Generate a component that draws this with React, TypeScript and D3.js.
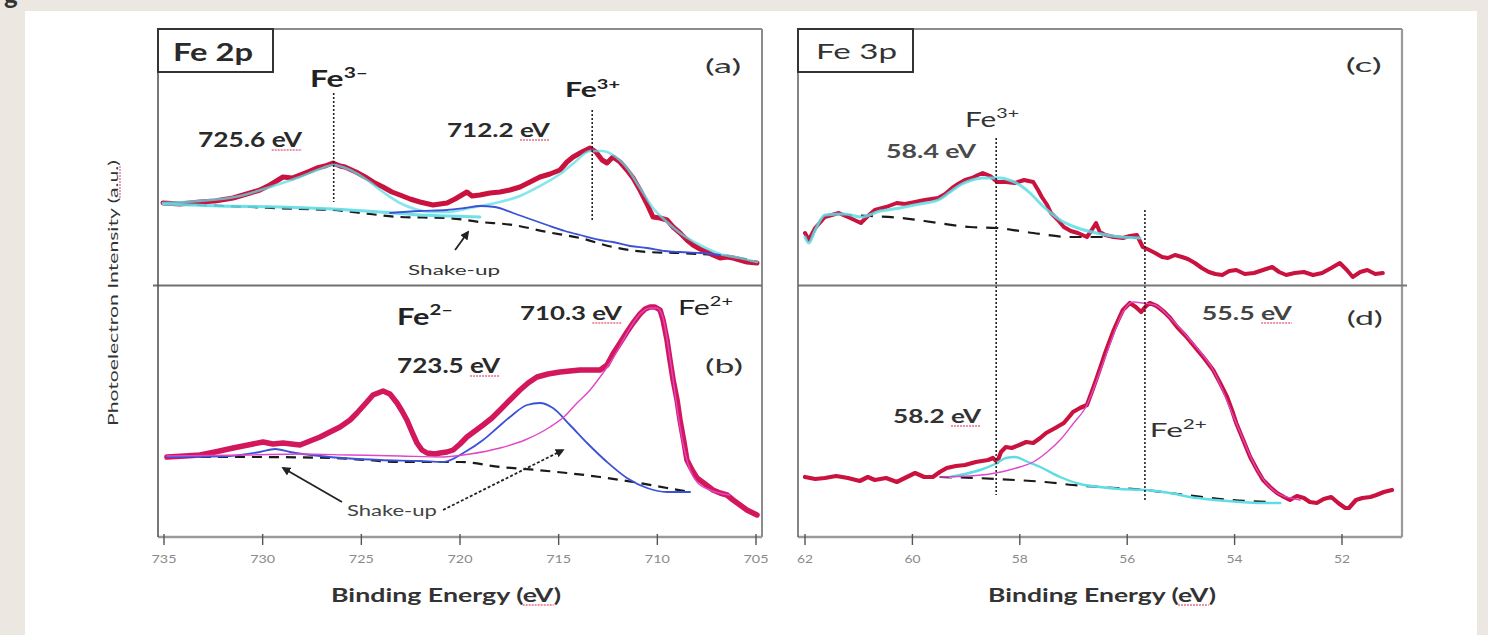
import React, { useLayoutEffect, useRef, useState } from 'react';
import * as d3 from 'd3';

type P = [number, number];

// ---------- tick labels ----------
const LEFT_TICKS = [735, 730, 725, 720, 715, 710, 705];
const RIGHT_TICKS = [62, 60, 58, 56, 54, 52];

// ---------- panel (a) Fe 2p, oxidised ----------
const A_RAW: P[] = [
  [735.05, 83], [734.19, 82], [733.18, 84], [732.42, 85], [731.5, 88], [730.64, 93], [730.14, 96], [729.63, 101],
  [728.97, 109], [728.51, 108], [728.11, 111], [727.6, 115], [727.25, 118], [726.84, 120], [726.44, 123], [726.08, 120],
  [725.83, 119], [725.27, 114], [724.71, 108], [724.31, 103], [723.9, 99], [723.45, 94], [723.04, 91], [722.53, 87],
  [722.03, 84], [721.37, 81], [720.66, 83], [720.25, 87], [719.65, 94], [719.39, 90], [718.99, 91], [718.48, 93],
  [717.97, 94], [717.47, 96], [716.96, 99], [716.45, 104], [715.95, 109], [715.44, 112], [714.93, 116], [714.58, 124],
  [714.27, 129], [713.82, 134], [713.41, 138], [713.11, 134], [712.8, 126], [712.55, 123], [712.25, 129], [711.89, 124],
  [711.54, 116], [711.23, 108], [710.88, 96], [710.52, 82], [710.22, 69], [709.86, 68], [709.51, 66], [709.2, 59],
  [708.85, 53], [708.5, 46], [708.19, 41], [707.84, 37], [707.48, 34], [707.18, 31], [706.82, 28], [706.47, 29],
  [706.16, 28], [705.81, 26], [705.46, 24], [704.95, 23],
];
const A_ENVELOPE: P[] = [
  [735.05, 83], [733.18, 85], [731.15, 90], [729.63, 99], [728.11, 109], [727.09, 117], [726.44, 121], [725.57, 116],
  [724.71, 106], [723.9, 94], [723.04, 83], [722.28, 77], [721.52, 74], [720.66, 74], [719.75, 77], [718.99, 80],
  [717.97, 84], [716.96, 90], [715.95, 100], [714.93, 112], [714.17, 124], [713.41, 135], [712.8, 135], [712.25, 131],
  [711.54, 118], [710.88, 98], [710.22, 78], [709.51, 64], [708.85, 53], [707.84, 41], [706.82, 32], [705.81, 28], [704.95, 24],
];
const A_LOW_FIT: P[] = [
  [735.05, 82], [732.16, 80], [729.12, 79], [726.44, 77], [724.05, 74], [722.03, 71], [720.51, 70], [718.99, 69],
];
const A_SHAKEUP: P[] = [
  [723.55, 73], [722.03, 75], [720.66, 76], [719.75, 78], [718.99, 80], [718.23, 79], [717.31, 73], [716.45, 67],
  [715.59, 61], [714.68, 55], [713.92, 51], [712.9, 46], [712.25, 44], [711.38, 40], [710.52, 38], [709.61, 35],
  [708.85, 34], [707.84, 33], [706.82, 31],
];
const A_BASE: P[] = [
  [735.05, 83], [733.18, 81], [730.64, 79], [728.11, 77], [726.44, 76], [724.56, 72], [723.04, 69], [720.66, 68],
  [718.99, 64], [717.31, 61], [715.59, 54], [713.92, 48], [712.25, 39], [710.52, 34], [708.85, 33], [707.18, 31],
  [705.81, 28], [704.95, 24],
];

// ---------- panel (b) Fe 2p, reduced ----------
const B_RAW: P[] = [
  [734.85, 80], [733.94, 81], [733.18, 82], [732.42, 85], [731.5, 89], [730.74, 92], [729.98, 95], [729.48, 93],
  [728.97, 94], [728.11, 92], [727.6, 96], [727.09, 100], [726.59, 105], [726.08, 110], [725.57, 117], [725.22, 124],
  [724.81, 133], [724.41, 142], [723.9, 146], [723.55, 143], [723.19, 134], [722.94, 126], [722.69, 117], [722.43, 105],
  [722.18, 94], [721.93, 87], [721.67, 84], [721.27, 83], [721.01, 84], [720.66, 85], [720.35, 87], [720.0, 93],
  [719.65, 100], [719.24, 106], [718.83, 112], [718.38, 119], [717.97, 127], [717.47, 137], [716.96, 147], [716.55, 154],
  [716.1, 160], [715.54, 163], [714.93, 165], [714.43, 166], [713.92, 167], [713.31, 167], [712.9, 167], [712.55, 172],
  [712.25, 183], [711.89, 194], [711.54, 205], [711.23, 214], [710.88, 223], [710.62, 228], [710.37, 230], [710.12, 230],
  [709.86, 227], [709.71, 217], [709.51, 197], [709.36, 177], [709.2, 157], [709.0, 137], [708.85, 117], [708.65, 95],
  [708.5, 77], [708.24, 67], [707.99, 59], [707.58, 53], [707.18, 47], [706.82, 44], [706.47, 42], [706.16, 37],
  [705.81, 32], [705.46, 27], [704.95, 22],
];
const B_FE2_MAIN: P[] = [
  [734.85, 81], [730.64, 82], [728.11, 83], [725.57, 82], [723.04, 81], [720.86, 80], [719.49, 83], [717.97, 89],
  [716.71, 97], [715.44, 110], [714.68, 121], [714.07, 134], [713.41, 147], [712.9, 160], [712.4, 174], [711.89, 191],
  [711.38, 209], [710.88, 223], [710.37, 229], [710.02, 229], [709.71, 219], [709.46, 192], [709.2, 157], [708.95, 122],
  [708.65, 89], [708.34, 67], [707.99, 55], [707.33, 47], [706.32, 42],
];
const B_SHAKEUP: P[] = [
  [734.85, 80], [731.66, 81], [730.14, 85], [729.37, 88], [728.61, 85], [727.09, 81], [724.05, 77], [722.03, 76],
  [720.86, 75], [719.75, 85], [718.83, 97], [718.12, 109], [717.47, 120], [716.6, 132], [715.95, 134], [715.29, 129],
  [714.43, 112], [713.56, 94], [712.55, 75], [711.54, 59], [710.52, 49], [709.51, 45], [708.34, 45],
];
const B_BASE: P[] = [
  [734.85, 80], [730.64, 80], [726.44, 79], [724.71, 77], [723.04, 75], [720.0, 75], [717.97, 70], [716.1, 67],
  [714.58, 64], [712.9, 60], [711.23, 55], [709.51, 49], [708.34, 45],
];

// ---------- panel (c) Fe 3p, oxidised ----------
const C_RAW: P[] = [
  [62.0, 53], [61.93, 46], [61.81, 58], [61.63, 69], [61.5, 71], [61.37, 73], [61.16, 68], [60.96, 63], [60.83, 70],
  [60.7, 76], [60.49, 79], [60.29, 83], [60.14, 82], [59.95, 84], [59.77, 86], [59.52, 88], [59.39, 92], [59.26, 98],
  [59.15, 102], [59.02, 106], [58.89, 108], [58.78, 111], [58.69, 113], [58.55, 110], [58.42, 104], [58.26, 104],
  [58.09, 103], [57.92, 106], [57.75, 104], [57.66, 96], [57.59, 89], [57.49, 81], [57.42, 73], [57.29, 66], [57.18, 59],
  [57.05, 55], [56.92, 53], [56.75, 49], [56.66, 56], [56.58, 63], [56.51, 54], [56.41, 51], [56.25, 49], [56.08, 48],
  [55.95, 50], [55.82, 51], [55.71, 39], [55.59, 36], [55.48, 33], [55.35, 29], [55.24, 28], [55.11, 31], [54.98, 29],
  [54.87, 27], [54.74, 23], [54.61, 18], [54.48, 14], [54.36, 12], [54.23, 11], [54.1, 15], [53.97, 16], [53.81, 12],
  [53.64, 13], [53.47, 16], [53.3, 19], [53.17, 14], [53.04, 11], [52.88, 13], [52.71, 14], [52.54, 11], [52.37, 13],
  [52.2, 18], [52.04, 23], [51.91, 16], [51.8, 9], [51.66, 14], [51.53, 16], [51.38, 12], [51.24, 13],
];
const C_ENVELOPE: P[] = [
  [62.0, 49], [61.93, 43], [61.81, 56], [61.63, 71], [61.26, 72], [60.96, 69], [60.6, 75], [60.23, 78], [59.86, 82],
  [59.52, 86], [59.3, 94], [59.11, 101], [58.89, 106], [58.69, 108], [58.37, 108], [58.15, 105], [58.0, 101],
  [57.81, 93], [57.59, 81], [57.4, 72], [57.25, 66], [56.92, 58], [56.58, 53], [56.13, 49], [55.76, 48],
];
const C_BASE: P[] = [
  [61.35, 71], [60.79, 70], [60.19, 68], [59.52, 63], [58.93, 59], [58.42, 58], [57.75, 53], [57.08, 49], [56.41, 49], [55.76, 48],
];

// ---------- panel (d) Fe 3p, reduced ----------
const D_RAW: P[] = [
  [62.0, 60], [61.81, 58], [61.63, 59], [61.42, 61], [61.2, 59], [60.98, 56], [60.83, 60], [60.7, 57], [60.49, 59],
  [60.29, 55], [60.14, 59], [59.95, 64], [59.78, 60], [59.62, 60], [59.49, 65], [59.36, 69], [59.19, 71], [59.02, 72],
  [58.82, 75], [58.59, 77], [58.5, 79], [58.42, 75], [58.35, 85], [58.26, 90], [58.15, 89], [58.01, 92], [57.88, 95],
  [57.75, 94], [57.62, 99], [57.51, 104], [57.34, 109], [57.18, 114], [57.07, 121], [57.01, 125], [56.88, 129],
  [56.75, 132], [56.66, 145], [56.58, 157], [56.49, 171], [56.41, 184], [56.32, 197], [56.25, 207], [56.15, 219],
  [56.08, 227], [55.95, 234], [55.84, 230], [55.74, 225], [55.65, 231], [55.58, 234], [55.45, 231], [55.31, 225],
  [55.2, 219], [55.07, 210], [54.91, 201], [54.74, 190], [54.57, 179], [54.4, 167], [54.27, 154], [54.14, 140],
  [54.05, 127], [53.97, 114], [53.84, 97], [53.71, 80], [53.58, 67], [53.47, 57], [53.34, 50], [53.21, 44], [53.08, 40],
  [52.97, 37], [52.84, 41], [52.71, 39], [52.6, 35], [52.47, 34], [52.34, 38], [52.2, 40], [52.07, 34], [51.94, 29],
  [51.87, 29], [51.74, 37], [51.62, 39], [51.47, 40], [51.36, 42], [51.22, 45], [51.07, 47],
];
const D_FE2: P[] = [
  [59.49, 60], [58.93, 61], [58.35, 65], [58.0, 70], [57.75, 75], [57.49, 85], [57.25, 97], [57.01, 113], [56.75, 132],
  [56.51, 165], [56.28, 199], [56.08, 225], [55.89, 235], [55.71, 234], [55.48, 232], [55.2, 219], [54.83, 197],
  [54.4, 167], [53.97, 114], [53.58, 67], [53.21, 44], [52.78, 37],
];
const D_FE3: P[] = [
  [59.3, 60], [59.02, 63], [58.74, 67], [58.46, 73], [58.26, 79], [58.09, 80], [57.85, 75], [57.62, 70], [57.25, 60],
  [56.88, 53], [56.51, 50], [56.13, 48], [55.67, 47], [55.2, 44], [54.83, 40], [54.36, 37], [53.9, 35], [53.53, 34], [53.15, 34],
];
const D_BASE: P[] = [
  [59.49, 60], [58.83, 59], [58.09, 57], [57.53, 55], [57.01, 52], [56.51, 50], [55.67, 47], [54.91, 42], [54.07, 37], [53.3, 35],
];

// ---------- reference lines: energy, top intensity, bottom intensity ----------
const A_MARKERS: [number, number, number][] = [[726.4, 193, 84], [713.3, 176, 66]];
// right-hand lines run from panel (c) (top value) down into panel (d) (bottom value)
const CD_MARKERS: [number, number, number][] = [[58.44, 148, 42], [55.67, 76, 35]];

// ---------- layout ----------
const W = 1488, H = 635;
const TOP = 29, MID = 285.5, BOT = 537;
const LF = { x0: 158, x1: 762 };
const RF = { x0: 798, x1: 1402 };

const xL = d3.scaleLinear().domain([735, 705]).range([164, 756]);
const xR = d3.scaleLinear().domain([62, 52]).range([805, 1342]);
const yTop = d3.scaleLinear().domain([0, 257]).range([286, 29]);
const yBot = d3.scaleLinear().domain([0, 251]).range([537, 286]);

const RED = '#c9123e';
const RED_B = '#d2175c';
const CYAN = '#5fdde4';
const BLUE = '#3c52d6';
const MAG = '#e046c8';
const FONT = 'Lato, "Open Sans", sans-serif';

function Curve({ data, x, y, stroke, width, dash, smooth, opacity }: any) {
  const gen = d3
    .line<P>()
    .x((d) => x(d[0]))
    .y((d) => y(d[1]))
    .curve(smooth ? d3.curveMonotoneX : d3.curveLinear);
  return (
    <path
      d={gen(data) || ''}
      fill="none"
      stroke={stroke}
      strokeWidth={width}
      strokeDasharray={dash}
      strokeLinejoin="round"
      strokeLinecap={dash ? 'butt' : 'round'}
      opacity={opacity ?? 1}
    />
  );
}

// text with optional spell-check style underline beneath a range of characters
function Label({ x, y, text, size = 18, weight = 'bold', fill = '#2a2a2a', len, ul, anchor, transform }: any) {
  const ref = useRef<SVGTextElement>(null);
  const [u, setU] = useState<null | { x0: number; x1: number; y: number }>(null);
  useLayoutEffect(() => {
    if (!ul || !ref.current) return;
    try {
      const t = ref.current;
      const a = t.getExtentOfChar(ul[0]);
      const b = t.getExtentOfChar(ul[0] + ul[1] - 1);
      setU({ x0: a.x, x1: b.x + b.width, y: a.y + a.height - 1 });
    } catch (e) {
      /* ignore */
    }
  }, []);
  return (
    <g transform={transform}>
      <text
        ref={ref}
        x={x}
        y={y}
        fontFamily={FONT}
        fontSize={size}
        fontWeight={weight}
        fill={fill}
        textLength={len}
        lengthAdjust={len ? 'spacingAndGlyphs' : undefined}
        textAnchor={anchor}
      >
        {text}
      </text>
      {u && (
        <line x1={u.x0} x2={u.x1} y1={u.y} y2={u.y} stroke="#e6708a" strokeWidth={1.3} strokeDasharray="2,1" />
      )}
    </g>
  );
}

function Ion({ x, y, base, sup, size = 20, weight = 'bold', fill = '#222', len }: any) {
  return (
    <text
      x={x}
      y={y}
      fontFamily={FONT}
      fontSize={size}
      fontWeight={weight}
      fill={fill}
      textLength={len}
      lengthAdjust="spacingAndGlyphs"
    >
      {base}
      <tspan dy={-size * 0.42} fontSize={size * 0.66}>{sup}</tspan>
    </text>
  );
}

function Arrow({ x1, y1, x2, y2, dash }: any) {
  return (
    <line x1={x1} y1={y1} x2={x2} y2={y2} stroke="#222" strokeWidth={1.8} strokeDasharray={dash} markerEnd="url(#arrowHead)" />
  );
}

export default function App() {
  return (
    <svg width={W} height={H} viewBox={`0 0 ${W} ${H}`} style={{ position: 'absolute', left: 0, top: 0, display: 'block' }}>
      <defs>
        <marker id="arrowHead" viewBox="0 0 10 10" refX="8" refY="5" markerWidth="5" markerHeight="5" orient="auto">
          <path d="M0,0 L10,5 L0,10 z" fill="#222" />
        </marker>
      </defs>
      <rect x={0} y={0} width={W} height={H} fill="#ece8e1" />
      <rect x={25} y={11} width={1452} height={H - 11} fill="#ffffff" />
      <text x={4} y={4} fontFamily={FONT} fontSize={26} fontWeight="bold" fill="#333">g</text>

      {/* ---------------- LEFT PANELS ---------------- */}
      <g>
        <Curve data={A_BASE} x={xL} y={yTop} stroke="#1a1a1a" width={2.2} dash="10,7" smooth />
        <Curve data={A_RAW} x={xL} y={yTop} stroke={RED} width={5} />
        <Curve data={A_LOW_FIT} x={xL} y={yTop} stroke={CYAN} width={3} smooth opacity={0.9} />
        <Curve data={A_ENVELOPE} x={xL} y={yTop} stroke={CYAN} width={2.6} smooth opacity={0.75} />
        <Curve data={A_SHAKEUP} x={xL} y={yTop} stroke={BLUE} width={1.8} smooth />

        <Curve data={B_RAW} x={xL} y={yBot} stroke={RED_B} width={5.5} />
        <Curve data={B_BASE} x={xL} y={yBot} stroke="#1a1a1a" width={2.2} dash="10,7" smooth />
        <Curve data={B_SHAKEUP} x={xL} y={yBot} stroke={BLUE} width={1.8} smooth />
        <Curve data={B_FE2_MAIN} x={xL} y={yBot} stroke={MAG} width={1.4} smooth />

        {A_MARKERS.map(([e, t, b], i) => (
          <line key={i} x1={xL(e)} x2={xL(e)} y1={yTop(t)} y2={yTop(b)} stroke="#222" strokeWidth={1.6} strokeDasharray="2,2" />
        ))}

        <line x1={LF.x0} x2={LF.x1} y1={TOP} y2={TOP} stroke="#8c8c8c" strokeWidth={2.2} />
        <line x1={LF.x1} x2={LF.x1} y1={TOP} y2={BOT} stroke="#8c8c8c" strokeWidth={2} />
        <line x1={153} x2={LF.x1} y1={MID} y2={MID} stroke="#6e6e6e" strokeWidth={2} />
        <line x1={LF.x0} x2={LF.x1} y1={BOT} y2={BOT} stroke="#9a9a9a" strokeWidth={2.5} />
        <line x1={LF.x0} x2={LF.x0} y1={TOP} y2={BOT} stroke="#555" strokeWidth={1.6} />
        {LEFT_TICKS.map((t) => (
          <g key={t}>
            <line x1={xL(t)} x2={xL(t)} y1={BOT - 3} y2={BOT + 8} stroke="#555" strokeWidth={1.4} />
            <text x={xL(t)} y={563} textAnchor="middle" fontFamily={FONT} fontSize={12} fill="#8a8a8a" textLength={25} lengthAdjust="spacingAndGlyphs">{t}</text>
          </g>
        ))}

        <rect x={LF.x0} y={TOP} width={115} height={43} fill="#fff" stroke="#333" strokeWidth={2} />
        <Label x={173} y={61} text="Fe 2p" size={24} len={80} />

        {/* (a) */}
        <Ion x={xL(727.6)} y={yTop(199)} base="Fe" sup="3–" size={22} len={58} />
        <Ion x={xL(714.68)} y={yTop(189)} base="Fe" sup="3+" size={20} len={55} />
        <Label x={xL(733.28)} y={yTop(139)} text="725.6 eV" size={20} len={104} ul={[6, 2]} />
        <Label x={xL(720.66)} y={yTop(149)} text="712.2 eV" size={18} len={103} ul={[6, 2]} />
        <Label x={xL(707.58)} y={yTop(213)} text="(a)" size={19} weight="normal" fill="#333" len={36} />
        <Label x={xL(722.63)} y={yTop(11)} text="Shake-up" size={14} weight="normal" fill="#333" len={92} />
        <Arrow x1={xL(720.25)} y1={yTop(36)} x2={xL(719.59)} y2={yTop(54)} />

        {/* (b) */}
        <Ion x={xL(723.19)} y={yBot(212)} base="Fe" sup="2–" size={23} len={56} />
        <Ion x={xL(708.95)} y={yBot(222)} base="Fe" sup="2+" size={21} weight="normal" len={55} />
        <Label x={xL(723.19)} y={yBot(164)} text="723.5 eV" size={20} len={103} ul={[6, 2]} />
        <Label x={xL(716.96)} y={yBot(217)} text="710.3 eV" size={19} len={102} ul={[6, 2]} />
        <Label x={xL(707.58)} y={yBot(164)} text="(b)" size={19} weight="normal" fill="#333" len={38} />
        <Label x={xL(725.73)} y={yBot(21)} text="Shake-up" size={15} weight="normal" fill="#444" len={90} />
        <Arrow x1={xL(725.98)} y1={yBot(35)} x2={xL(728.97)} y2={yBot(69)} />
        <Arrow x1={xL(720.86)} y1={yBot(27)} x2={xL(714.78)} y2={yBot(87)} dash="3,2" />

        <Label
          x={118}
          y={293}
          transform="rotate(-90 118 293)"
          anchor="middle"
          text="Photoelectron Intensity (a.u.)"
          size={14}
          weight="normal"
          fill="#333"
          len={266}
          ul={[25, 4]}
        />
        <Label x={331} y={602} text="Binding Energy (eV)" size={19} len={230} fill="#333" ul={[16, 2]} />
      </g>

      {/* ---------------- RIGHT PANELS ---------------- */}
      <g>
        <Curve data={C_BASE} x={xR} y={yTop} stroke="#1a1a1a" width={2.2} dash="12,9" smooth />
        <Curve data={C_RAW} x={xR} y={yTop} stroke={RED} width={4} />
        <Curve data={C_ENVELOPE} x={xR} y={yTop} stroke={CYAN} width={3} smooth opacity={0.85} />

        <Curve data={D_RAW} x={xR} y={yBot} stroke={RED} width={4.2} />
        <Curve data={D_BASE} x={xR} y={yBot} stroke="#1a1a1a" width={2.2} dash="12,9" smooth />
        <Curve data={D_FE3} x={xR} y={yBot} stroke={CYAN} width={2.4} smooth />
        <Curve data={D_FE2} x={xR} y={yBot} stroke={MAG} width={1.4} smooth />

        {CD_MARKERS.map(([e, t, b], i) => (
          <line key={i} x1={xR(e)} x2={xR(e)} y1={yTop(t)} y2={yBot(b)} stroke="#222" strokeWidth={1.6} strokeDasharray="2,2" />
        ))}

        <line x1={RF.x0} x2={RF.x1} y1={TOP} y2={TOP} stroke="#8c8c8c" strokeWidth={2.2} />
        <line x1={RF.x1} x2={RF.x1} y1={TOP} y2={BOT} stroke="#9a9a9a" strokeWidth={2.2} />
        <line x1={RF.x0} x2={1407} y1={MID} y2={MID} stroke="#777" strokeWidth={2.2} />
        <line x1={RF.x0} x2={RF.x1} y1={BOT} y2={BOT} stroke="#9a9a9a" strokeWidth={2.5} />
        <line x1={RF.x0} x2={RF.x0} y1={TOP} y2={BOT} stroke="#666" strokeWidth={1.6} />
        {RIGHT_TICKS.map((t) => (
          <g key={t}>
            <line x1={xR(t)} x2={xR(t)} y1={BOT - 3} y2={BOT + 8} stroke="#555" strokeWidth={1.4} />
            <text x={xR(t)} y={563} textAnchor="middle" fontFamily={FONT} fontSize={12} fill="#8a8a8a" textLength={16} lengthAdjust="spacingAndGlyphs">{t}</text>
          </g>
        ))}

        <rect x={RF.x0} y={TOP} width={115} height={43} fill="#fff" stroke="#333" strokeWidth={2} />
        <Label x={816} y={59} text="Fe 3p" size={21} weight="normal" fill="#333" len={81} />

        {/* (c) */}
        <Ion x={xR(59.02)} y={yTop(159)} base="Fe" sup="3+" weight="normal" size={21} fill="#333" len={54} />
        <Label x={xR(60.49)} y={yTop(128)} text="58.4 eV" size={18} fill="#4a4a4a" len={90} />
        <Label x={xR(51.93)} y={yTop(214)} text="(c)" size={20} weight="normal" fill="#333" len={36} />

        {/* (d) */}
        <Label x={xR(54.61)} y={yBot(217)} text="55.5 eV" size={18} fill="#444" len={90} ul={[5, 2]} />
        <Label x={xR(60.36)} y={yBot(114)} text="58.2 eV" size={18} fill="#333" len={88} ul={[5, 2]} />
        <Ion x={xR(55.58)} y={yBot(100)} base="Fe" sup="2+" weight="normal" size={20} fill="#333" len={57} />
        <Label x={xR(51.91)} y={yBot(212)} text="(d)" size={20} weight="normal" fill="#333" len={36} />

        <Label x={988} y={602} text="Binding Energy (eV)" size={19} len={228} fill="#333" ul={[16, 2]} />
      </g>
    </svg>
  );
}
